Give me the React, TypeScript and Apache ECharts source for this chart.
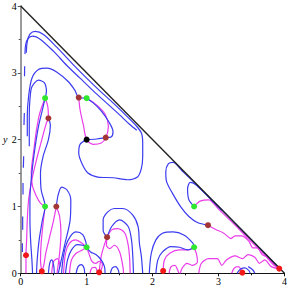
import React, { useEffect, useRef } from "react";
import * as echarts from "echarts";

const xTicks = [0, 1, 2, 3, 4];
const yTicks = [0, 1, 2, 3, 4];
const diagonal = [[0, 4], [4, 0]];

// blue level curves
const bOuter = [[0.085,3.30],[0.10,3.47],[0.14,3.58],[0.22,3.62],[0.35,3.57],[0.55,3.38],[0.8,3.12],[1.0,2.92],[1.2,2.73],[1.4,2.55],[1.6,2.36],[1.74,2.22],[1.83,2.10],[1.85,1.95],[1.85,1.75],[1.83,1.57],[1.77,1.44],[1.62,1.40],[1.40,1.43],[1.17,1.44],[1.02,1.50],[0.93,1.64],[0.88,1.80],[0.90,1.93],[1.0,2.0]];
const bInner = [[0.065,3.28],[0.075,3.42],[0.11,3.51],[0.18,3.55],[0.30,3.50],[0.5,3.32],[0.7,3.11],[0.9,2.92],[1.1,2.73],[1.3,2.55],[1.5,2.37],[1.65,2.23],[1.76,2.14]];
const bTop3 = [[0.10,2.05],[0.10,2.35],[0.12,2.65],[0.17,2.92],[0.27,3.05],[0.40,3.07],[0.55,3.01],[0.72,2.87],[0.82,2.74],[0.88,2.63],[1.0,2.62]];
const bTopRight = [[1.0,2.62],[1.1,2.55],[1.22,2.43],[1.34,2.26],[1.40,2.12],[1.37,2.04],[1.29,2.03],[1.15,2.01],[1.0,2.0]];
const bSmallArch = [[0.13,1.9],[0.13,2.35],[0.14,2.6],[0.17,2.79],[0.27,2.89],[0.36,2.85],[0.39,2.72],[0.37,2.62]];
const bLeftA = [[0.37,2.62],[0.33,2.45],[0.27,2.2],[0.22,1.9],[0.18,1.6],[0.15,1.3],[0.14,1.1],[0.14,0.8],[0.15,0.5],[0.17,0.2],[0.18,0.0]];
const bLeftB = [[0.42,2.32],[0.45,2.22],[0.42,2.0],[0.34,1.75],[0.30,1.5],[0.31,1.25],[0.37,1.0],[0.33,0.8],[0.28,0.5],[0.25,0.2],[0.24,0.0]];
const bArchL = [[0.54,1.0],[0.57,1.18],[0.62,1.29],[0.70,1.25],[0.76,1.10],[0.75,0.80],[0.67,0.44],[0.57,0.0]];
const bArchM1 = [[0.62,0.0],[0.64,0.2],[0.68,0.4],[0.75,0.55],[0.84,0.62],[0.94,0.58],[0.99,0.46],[1.0,0.39],[1.06,0.32],[1.14,0.28],[1.22,0.2],[1.27,0.1],[1.28,0.0]];
const bArchM2 = [[0.68,0.0],[0.71,0.2],[0.77,0.35],[0.86,0.43],[0.94,0.42],[1.0,0.39]];
const bArchC1 = [[1.31,0.54],[1.25,0.64],[1.25,0.80],[1.32,0.92],[1.42,0.97],[1.55,0.97],[1.70,0.87],[1.78,0.70],[1.80,0.45],[1.83,0.25],[1.85,0.0]];
const bArchC2 = [[1.31,0.54],[1.38,0.70],[1.50,0.80],[1.63,0.70],[1.68,0.50],[1.70,0.25],[1.71,0.0]];
const bArchR1 = [[1.95,0.0],[1.98,0.30],[2.05,0.50],[2.15,0.60],[2.31,0.62],[2.48,0.57],[2.61,0.45],[2.63,0.39]];
const bArchR2 = [[2.05,0.0],[2.08,0.20],[2.15,0.32],[2.28,0.40],[2.41,0.39],[2.53,0.35],[2.63,0.39]];
const bLoopOut = [[2.84,0.72],[2.68,0.76],[2.55,0.85],[2.43,0.99],[2.30,1.20],[2.21,1.38],[2.20,1.52],[2.24,1.64],[2.31,1.66],[2.45,1.53],[2.65,1.34],[2.85,1.14],[3.05,0.94]];
const bLoopIn = [[2.63,1.0],[2.55,1.10],[2.53,1.26],[2.57,1.36],[2.65,1.33],[2.8,1.19],[3.0,1.0],[3.2,0.8],[3.4,0.6],[3.6,0.4],[3.8,0.2],[3.95,0.05]];
const bDash1 = [[0.06,3.10],[0.058,2.95]];
const bDash2 = [[0.055,2.40],[0.05,2.22]];
const bDash3 = [[0.045,1.75],[0.04,1.58]];
const bDash4 = [[0.035,1.35],[0.035,1.18]];
const bDash5 = [[0.03,0.85],[0.03,0.65]];
const bDash6 = [[0.025,0.45],[0.025,0.32]];
const bBump1 = [[0.42,0.0],[0.44,0.15],[0.47,0.2],[0.50,0.12],[0.51,0.0]];
const bBump2 = [[0.84,0.0],[0.87,0.1],[0.92,0.13],[0.96,0.08],[0.97,0.0]];
const bBump3 = [[1.36,0.0],[1.39,0.08],[1.44,0.1],[1.48,0.05],[1.49,0.0]];
const bBump4 = [[3.28,0.0],[3.33,0.06],[3.40,0.08],[3.46,0.04],[3.48,0.0]];
const bBump5 = [[3.45,0.1],[3.52,0.05],[3.55,0.0]];

// magenta level curves
const mTopLoop = [[0.88,2.63],[0.90,2.45],[0.95,2.22],[1.0,2.0],[1.1,1.93],[1.22,1.95],[1.29,2.03],[1.33,2.2],[1.28,2.38],[1.15,2.52],[1.0,2.62]];
const mLeft1 = [[0.37,2.62],[0.41,2.5],[0.42,2.32],[0.39,2.25],[0.32,2.0],[0.24,1.70],[0.17,1.40],[0.12,1.10],[0.10,0.8],[0.09,0.5],[0.08,0.27],[0.08,0.0]];
const mLeft2 = [[0.37,2.62],[0.29,2.4],[0.24,2.15],[0.20,1.85],[0.16,1.5],[0.18,1.3],[0.24,1.15],[0.30,1.05],[0.37,1.0]];
const mLeft3 = [[0.37,1.0],[0.34,0.75],[0.31,0.45],[0.30,0.2],[0.32,0.03]];
const mLeft4 = [[0.54,1.0],[0.50,0.8],[0.44,0.55],[0.38,0.3],[0.35,0.12],[0.32,0.03]];
const mLeft5 = [[0.54,1.0],[0.59,0.85],[0.61,0.6],[0.59,0.3],[0.55,0.0]];
const mMid1 = [[1.0,0.39],[0.93,0.45],[0.83,0.50],[0.74,0.45],[0.68,0.30],[0.65,0.0]];
const mMid2 = [[1.0,0.39],[0.92,0.34],[0.84,0.30],[0.77,0.2],[0.74,0.0]];
const mMid3 = [[1.0,0.39],[1.04,0.28],[1.08,0.18],[1.14,0.15],[1.19,0.18],[1.24,0.14],[1.22,0.05],[1.19,0.015]];
const mMid4 = [[1.05,0.0],[1.08,0.08],[1.13,0.09],[1.16,0.03]];
const mCen1 = [[1.31,0.54],[1.38,0.65],[1.47,0.67],[1.58,0.60],[1.63,0.42],[1.65,0.25],[1.66,0.0]];
const mCen2 = [[1.31,0.54],[1.30,0.42],[1.35,0.37],[1.42,0.42],[1.50,0.32],[1.55,0.10],[1.56,0.0]];
const mCen3 = [[1.31,0.54],[1.26,0.40],[1.22,0.25],[1.19,0.015]];
const mRight1 = [[2.16,0.035],[2.18,0.20],[2.26,0.30],[2.41,0.35],[2.55,0.35],[2.63,0.39]];
const mRight2 = [[2.63,0.39],[2.67,0.27],[2.68,0.17],[2.60,0.12],[2.52,0.15],[2.45,0.08],[2.42,0.0]];
const mRight3 = [[2.63,1.0],[2.72,1.08],[2.85,1.10],[3.0,0.96],[3.2,0.77],[3.4,0.57],[3.6,0.37],[3.8,0.18],[3.92,0.07]];
const mRight4 = [[2.84,0.72],[2.95,0.66],[3.08,0.60],[3.19,0.52],[3.25,0.56],[3.35,0.56],[3.46,0.48],[3.52,0.38],[3.59,0.38],[3.66,0.28],[3.72,0.25],[3.82,0.14],[3.92,0.07]];
const mRight5 = [[2.70,0.0],[2.74,0.15],[2.85,0.22],[2.98,0.22],[3.05,0.12],[3.12,0.2],[3.25,0.26],[3.36,0.22],[3.45,0.28],[3.55,0.24],[3.62,0.15],[3.7,0.2],[3.8,0.1],[3.92,0.07]];
const mRight6 = [[3.2,0.0],[3.24,0.08],[3.30,0.10],[3.36,0.01]];
const mBump1 = [[2.25,0.0],[2.28,0.1],[2.34,0.12],[2.38,0.05],[2.40,0.0]];
const mBump2 = [[0.47,0.0],[0.50,0.18],[0.56,0.22],[0.60,0.1]];

const blueCurves = [bOuter,bInner,bTop3,bTopRight,bSmallArch,bLeftA,bLeftB,bArchL,bArchM1,bArchM2,bArchC1,bArchC2,bArchR1,bArchR2,bLoopOut,bLoopIn,bDash1,bDash2,bDash3,bDash4,bDash5,bDash6,bBump1,bBump2,bBump3,bBump4,bBump5];
const magentaCurves = [mTopLoop,mLeft1,mLeft2,mLeft3,mLeft4,mLeft5,mMid1,mMid2,mMid3,mMid4,mCen1,mCen2,mCen3,mRight1,mRight2,mRight3,mRight4,mRight5,mRight6,mBump1,mBump2];

const greenPts = [[0.37,2.62],[1.0,2.62],[0.37,1.0],[1.0,0.39],[2.63,1.0],[2.63,0.39]];
const brownPts = [[0.42,2.32],[0.88,2.63],[1.29,2.03],[0.54,1.0],[1.31,0.54],[2.84,0.72]];
const redPts = [[0.08,0.27],[0.32,0.03],[1.19,0.015],[2.16,0.035],[3.36,0.01],[3.92,0.07]];
const blackPts = [[1.0,2.0]];

const BLUE = "#3b3bf0";
const MAGENTA = "#ea3cea";

export default function App() {
  const ref = useRef<HTMLDivElement>(null);
  useEffect(() => {
    document.body.style.margin = "0";
    const chart = echarts.init(ref.current!, null, { renderer: "svg" });
    const lineSeries = (data: number[][], color: string, z: number) => ({
      type: "line",
      data,
      showSymbol: false,
      smooth: 0.3,
      z,
      lineStyle: { color, width: 1.2 },
      silent: true,
    });
    const series: any[] = [];
    magentaCurves.forEach((c) => series.push(lineSeries(c, MAGENTA, 2)));
    blueCurves.forEach((c) => series.push(lineSeries(c, BLUE, 3)));
    series.push({
      type: "line",
      data: diagonal,
      showSymbol: false,
      z: 4,
      lineStyle: { color: "#222", width: 1.4 },
    });
    const pts = (data: number[][], color: string) => ({
      type: "scatter",
      data,
      symbolSize: 6,
      z: 10,
      itemStyle: { color, opacity: 1 },
    });
    series.push(pts(greenPts, "#2ee82e"));
    series.push(pts(brownPts, "#a33535"));
    series.push(pts(redPts, "#f01818"));
    series.push(pts(blackPts, "#000000"));

    const labelStyle = { fontFamily: "Liberation Serif", fontSize: 10, color: "#000" };
    chart.setOption({
      animation: false,
      grid: { left: 20.7, right: 4.5, top: 6, bottom: 14.7, containLabel: false },
      xAxis: {
        type: "value",
        min: 0,
        max: 4,
        interval: 1,
        axisLine: { onZero: false, lineStyle: { color: "#111", width: 1 } },
        axisTick: { show: true, length: 3, lineStyle: { color: "#111" } },
        minorTick: { show: true, splitNumber: 2, length: 2, lineStyle: { color: "#111" } },
        splitLine: { show: false },
        axisLabel: { ...labelStyle, margin: 3, formatter: (v: number) => (xTicks.includes(v) ? String(v) : "") },
      },
      yAxis: {
        type: "value",
        min: 0,
        max: 4,
        interval: 1,
        axisLine: { onZero: false, lineStyle: { color: "#9a9a9a", width: 2 } },
        axisTick: { show: true, length: 3, lineStyle: { color: "#555" } },
        minorTick: { show: true, splitNumber: 2, length: 2, lineStyle: { color: "#555" } },
        splitLine: { show: false },
        axisLabel: { ...labelStyle, margin: 4, formatter: (v: number) => (yTicks.includes(v) ? String(v) : "") },
      },
      graphic: [
        {
          type: "text",
          left: 3,
          top: 134,
          style: { text: "y", font: "italic 10px 'Liberation Serif'", fill: "#000" },
        },
      ],
      series,
    });
    return () => chart.dispose();
  }, []);
  return <div ref={ref} style={{ width: 290, height: 288 }} />;
}
